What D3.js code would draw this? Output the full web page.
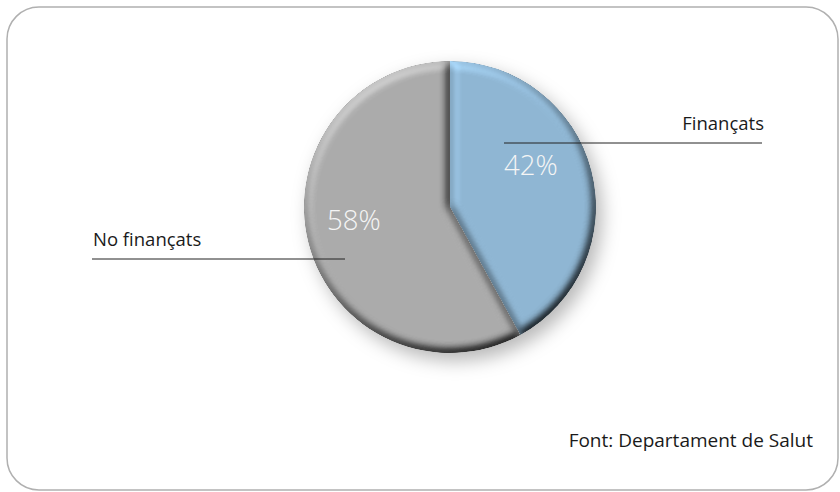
<!DOCTYPE html>
<html><head><meta charset="utf-8">
<script src="https://cdn.jsdelivr.net/npm/d3@7"></script>
<style>
html,body{margin:0;padding:0;background:#fff;}
svg{display:block;}
text{font-family:"Open Sans","Noto Sans",sans-serif;}
</style></head>
<body>
<div id="chart"></div>
<script>
const categories = ["Finançats", "No finançats"];
const values = [42, 58];
const percentLabels = ["42%", "58%"];
const colors = ["#8fb6d3", "#ababab"];
const sourceText = "Font: Departament de Salut";

const W = 840, H = 492;
const cx = 450, cy = 207, R = 146;

const svg = d3.select("#chart").append("svg").attr("width", W).attr("height", H);
const defs = svg.append("defs");

// bevel filter
const bev = defs.append("filter").attr("id", "bevel")
  .attr("x", "-10%").attr("y", "-10%").attr("width", "120%").attr("height", "120%")
  .attr("color-interpolation-filters", "sRGB");
bev.append("feGaussianBlur").attr("in", "SourceAlpha").attr("stdDeviation", 5).attr("result", "blur");
const dl = bev.append("feDiffuseLighting").attr("in", "blur").attr("surfaceScale", 6)
  .attr("diffuseConstant", 1).attr("lighting-color", "#ffffff").attr("result", "light");
dl.append("feDistantLight").attr("azimuth", 240).attr("elevation", 58);
bev.append("feComposite").attr("in", "SourceGraphic").attr("in2", "light")
  .attr("operator", "arithmetic").attr("k1", 1.18).attr("k2", 0).attr("k3", 0).attr("k4", 0).attr("result", "lit");
bev.append("feComposite").attr("in", "lit").attr("in2", "SourceAlpha").attr("operator", "in");

// drop shadow
const sh = defs.append("filter").attr("id", "shadow")
  .attr("x", "-20%").attr("y", "-20%").attr("width", "150%").attr("height", "150%");
sh.append("feDropShadow").attr("dx", 6).attr("dy", 8).attr("stdDeviation", 9)
  .attr("flood-color", "#000").attr("flood-opacity", 0.28);

// frame
svg.append("rect").attr("x", 7).attr("y", 7).attr("width", 831).attr("height", 483)
  .attr("rx", 32).attr("ry", 32).attr("fill", "#fff").attr("stroke", "#b0b0b0").attr("stroke-width", 1.5);

const pie = d3.pie().sort(null).value(d => d)(values);
const arc = d3.arc().innerRadius(0).outerRadius(R);

const g = svg.append("g").attr("transform", `translate(${cx},${cy})`);
const shadowG = g.append("g").attr("filter", "url(#shadow)");
shadowG.selectAll("path").data(pie).join("path")
  .attr("d", arc).attr("fill", (d, i) => colors[i]).attr("filter", "url(#bevel)");

// percent labels (polar placement relative to pie centre)
const labelPolar = [{a: 62.6, r: 91}, {a: 262.3, r: 97}];
g.selectAll("text.pct").data(pie).join("text").attr("class", "pct")
  .attr("x", (d, i) => labelPolar[i].r * Math.sin(labelPolar[i].a * Math.PI / 180))
  .attr("y", (d, i) => -labelPolar[i].r * Math.cos(labelPolar[i].a * Math.PI / 180))
  .attr("dy", "0.36em")
  .attr("text-anchor", "middle").attr("fill", "#f5f5f5")
  .attr("font-size", 27.5).attr("font-weight", 300)
  .text((d, i) => percentLabels[i]);

// leader lines and category labels
const leaders = [
  {x1: 504, x2: 762, y: 143, anchor: "end"},
  {x1: 92, x2: 345, y: 259, anchor: "start"}
];
leaders.forEach((L, i) => {
  svg.append("line").attr("x1", L.x1).attr("x2", L.x2).attr("y1", L.y).attr("y2", L.y)
    .attr("stroke", "#222").attr("stroke-width", 1);
  svg.append("text").attr("x", L.anchor === "end" ? L.x2 + 2 : L.x1 + 1).attr("y", L.y - 13)
    .attr("text-anchor", L.anchor).attr("fill", "#1a1a1a").attr("font-size", 18.5)
    .text(categories[i]);
});

svg.append("text").attr("x", 813).attr("y", 447).attr("text-anchor", "end")
  .attr("fill", "#1a1a1a").attr("font-size", 19).text(sourceText);
</script>
</body></html>
